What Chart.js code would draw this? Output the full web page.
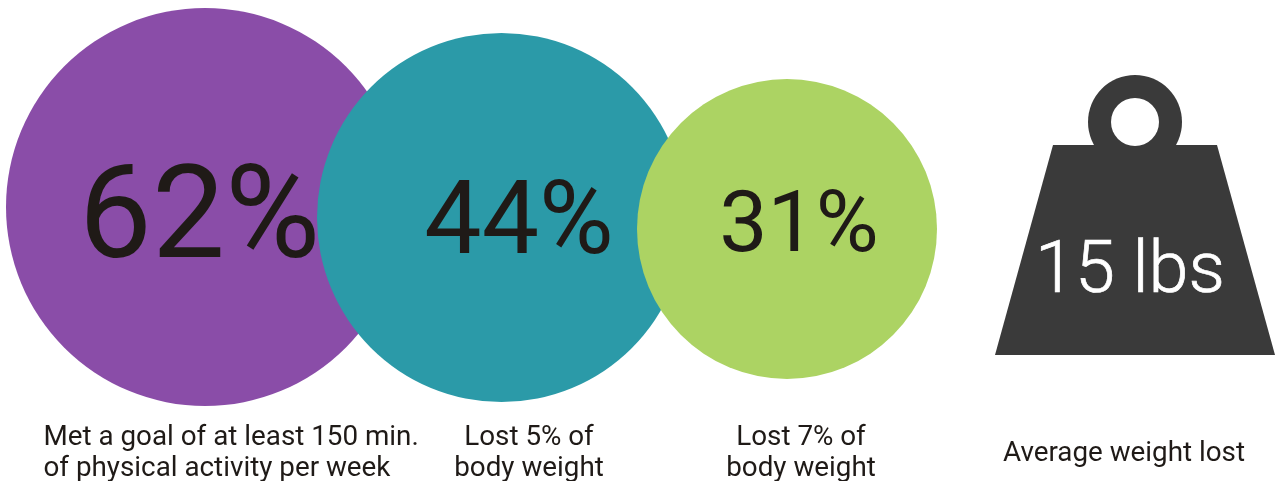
<!DOCTYPE html>
<html>
<head>
<meta charset="utf-8">
<title>Program outcomes</title>
<script src="https://cdn.jsdelivr.net/npm/chart.js@4"></script>
<style>
    html, body { margin: 0; padding: 0; background: #fff; }
    canvas { display: block; }
</style>
</head>
<body>
<canvas id="outcomeChart" width="1280" height="481"></canvas>
<script>
// Chart values
const percentValues = [62, 44, 31];
const weightLost = 15;
const percentCaptions = [
    ['Met a goal of at least 150 min.', 'of physical activity per week'],
    ['Lost 5% of', 'body weight'],
    ['Lost 7% of', 'body weight']
];
const weightCaption = 'Average weight lost';

// Layout, the axes run in canvas units so x and y read straight across
const bubbleX = [205, 501.5, 787];
const bubbleY = [207, 217.5, 229];
const bubbleR = [199, 184.5, 150];
const bubbleColors = ['#8a4da8', '#2b9aa8', '#acd363'];
const labelSizes = [130, 102, 86];
const labelX = [199.5, 519, 799];
const labelY = [257, 252.5, 251];
const weightX = 1135;
const weightY = 215;
const textColor = '#1f1a17';
const iconColor = '#3a3a3a';

// The kettlebell is one point with a canvas as its point style
function makeWeightIcon() {
    const icon = document.createElement('canvas');
    icon.width = 280;
    icon.height = 280;
    const c = icon.getContext('2d');
    c.fillStyle = iconColor;
    c.beginPath();
    c.arc(140, 47, 47, 0, Math.PI * 2);
    c.fill();
    c.beginPath();
    c.moveTo(58, 70);
    c.lineTo(222, 70);
    c.lineTo(280, 280);
    c.lineTo(0, 280);
    c.closePath();
    c.fill();
    c.fillStyle = '#fff';
    c.beginPath();
    c.arc(140, 47, 24, 0, Math.PI * 2);
    c.fill();
    return icon;
}

const bubbleData = percentValues.map((v, i) => ({ x: bubbleX[i], y: bubbleY[i], r: bubbleR[i], value: v }));
bubbleData.push({ x: weightX, y: weightY, r: 140, value: weightLost });

const textPlugin = {
    id: 'outcomeText',
    afterDatasetsDraw(chart) {
        const ctx = chart.ctx;
        const xs = chart.scales.x;
        const ys = chart.scales.y;
        ctx.save();
        ctx.textBaseline = 'alphabetic';

        // Percent labels inside the circles
        ctx.fillStyle = textColor;
        ctx.textAlign = 'center';
        percentValues.forEach((v, i) => {
            ctx.font = '400 ' + labelSizes[i] + 'px Roboto';
            ctx.fillText(v + '%', xs.getPixelForValue(labelX[i]), ys.getPixelForValue(labelY[i]));
        });

        // Value on the weight, light face thickened a little with a stroke
        ctx.fillStyle = '#fff';
        ctx.strokeStyle = '#fff';
        ctx.lineWidth = 0.7;
        ctx.font = '300 72px Roboto';
        ctx.fillText(weightLost + ' lbs', xs.getPixelForValue(1130), ys.getPixelForValue(292));
        ctx.strokeText(weightLost + ' lbs', xs.getPixelForValue(1130), ys.getPixelForValue(292));

        // Captions along the bottom
        ctx.fillStyle = textColor;
        ctx.font = '400 27.8px Roboto';
        ctx.textAlign = 'left';
        ctx.fillText(percentCaptions[0][0], xs.getPixelForValue(43.5), ys.getPixelForValue(445));
        ctx.fillText(percentCaptions[0][1], xs.getPixelForValue(43.5), ys.getPixelForValue(476));
        ctx.textAlign = 'center';
        ctx.fillText(percentCaptions[1][0], xs.getPixelForValue(529), ys.getPixelForValue(445));
        ctx.fillText(percentCaptions[1][1], xs.getPixelForValue(529), ys.getPixelForValue(476));
        ctx.fillText(percentCaptions[2][0], xs.getPixelForValue(801), ys.getPixelForValue(445));
        ctx.fillText(percentCaptions[2][1], xs.getPixelForValue(801), ys.getPixelForValue(476));
        ctx.fillText(weightCaption, xs.getPixelForValue(1124), ys.getPixelForValue(461));
        ctx.restore();
    }
};

const ctx = document.getElementById('outcomeChart').getContext('2d');
const outcomeChart = new Chart(ctx, {
    type: 'bubble',
    data: {
        datasets: [{
            data: bubbleData,
            clip: false,
            backgroundColor: bubbleColors.concat(iconColor),
            borderWidth: 0,
            hoverBorderWidth: 0,
            pointStyle: ['circle', 'circle', 'circle', makeWeightIcon()]
        }]
    },
    options: {
        responsive: false,
        animation: false,
        // big bubbles would otherwise pad the chart area inwards
        layout: { padding: 0, autoPadding: false },
        plugins: {
            legend: { display: false },
            tooltip: { enabled: false },
            title: { display: false }
        },
        scales: {
            x: { type: 'linear', min: 0, max: 1280, display: false },
            y: { type: 'linear', min: 0, max: 481, reverse: true, display: false }
        }
    },
    plugins: [textPlugin]
});
</script>
</body>
</html>
